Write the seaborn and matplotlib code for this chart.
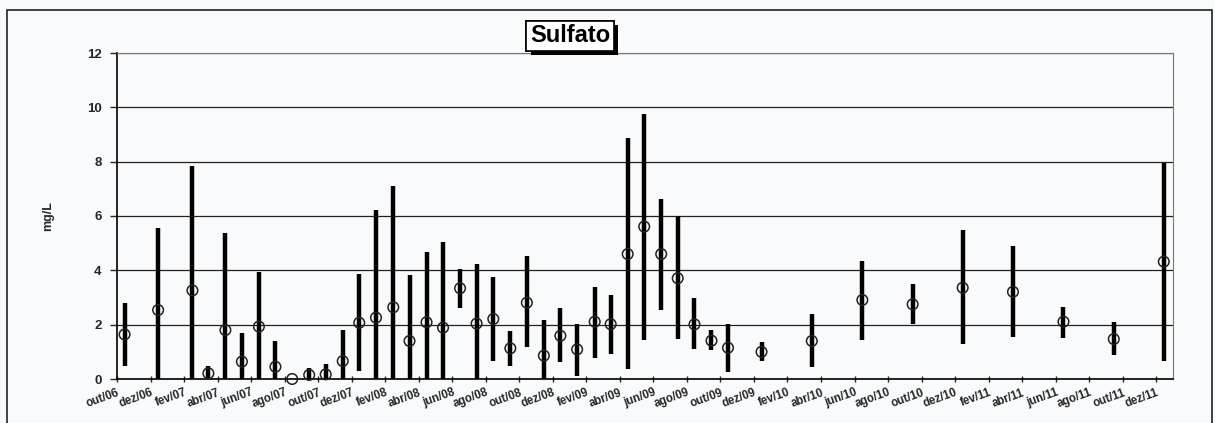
import pandas as pd
import matplotlib
matplotlib.use("Agg")
import matplotlib.pyplot as plt
import matplotlib.patheffects as pe
import seaborn as sns
from matplotlib.patches import Rectangle

# =========================
# DATA
# =========================
datas = ["2006-10-15", "2006-12-15", "2007-02-15", "2007-03-15", "2007-04-15",
         "2007-05-15", "2007-06-15", "2007-07-15", "2007-08-15", "2007-09-15",
         "2007-10-15", "2007-11-15", "2007-12-15", "2008-01-15", "2008-02-15",
         "2008-03-15", "2008-04-15", "2008-05-15", "2008-06-15", "2008-07-15",
         "2008-08-15", "2008-09-15", "2008-10-15", "2008-11-15", "2008-12-15",
         "2009-01-15", "2009-02-15", "2009-03-15", "2009-04-15", "2009-05-15",
         "2009-06-15", "2009-07-15", "2009-08-15", "2009-09-15", "2009-10-15",
         "2009-12-15", "2010-03-15", "2010-06-15", "2010-09-15", "2010-12-15",
         "2011-03-15", "2011-06-15", "2011-09-15", "2011-12-15"]

minimo = [0.49, 0, 0, 0, 0, 0, 0, 0, 0, 0, 0, 0, 0.29, 0, 0,
          0, 0, 0, 2.60, 0, 0.66, 0.49, 1.17, 0, 0.61,
          0.12, 0.78, 0.93, 0.37, 1.42, 2.53, 1.48, 1.10, 1.07, 0.27,
          0.67, 0.44, 1.44, 2.01, 1.29, 1.56, 1.52, 0.88, 0.67]

maximo = [2.79, 5.57, 7.85, 0.48, 5.38, 1.71, 3.93, 1.41, 0.0, 0.39,
          0.54, 1.80, 3.88, 6.22, 7.09, 3.83, 4.69, 5.05, 4.06, 4.24,
          3.77, 1.77, 4.53, 2.17, 2.62, 2.02, 3.37, 3.09, 8.86, 9.74,
          6.64, 6.00, 2.98, 1.80, 2.04, 1.36, 2.38, 4.35, 3.51, 5.48,
          4.91, 2.66, 2.09, 7.96]

media = [1.64, 2.54, 3.26, 0.21, 1.80, 0.64, 1.93, 0.45, 0.0, 0.15,
         0.17, 0.66, 2.07, 2.26, 2.64, 1.40, 2.09, 1.89, 3.34, 2.04,
         2.21, 1.13, 2.81, 0.86, 1.59, 1.09, 2.11, 2.02, 4.60, 5.61,
         4.60, 3.71, 2.01, 1.41, 1.15, 1.00, 1.40, 2.91, 2.75, 3.36,
         3.21, 2.11, 1.47, 4.32]

rotulos_x = ["out/06", "dez/06", "fev/07", "abr/07", "jun/07", "ago/07", "out/07", "dez/07",
             "fev/08", "abr/08", "jun/08", "ago/08", "out/08", "dez/08", "fev/09", "abr/09",
             "jun/09", "ago/09", "out/09", "dez/09", "fev/10", "abr/10", "jun/10", "ago/10",
             "out/10", "dez/10", "fev/11", "abr/11", "jun/11", "ago/11", "out/11", "dez/11"]

# months since out/06 (Excel-like date axis, equal months)
d = pd.to_datetime(pd.Series(datas))
df = pd.DataFrame({
    "mes": (d.dt.year - 2006) * 12 + d.dt.month - 10 + (d.dt.day - 1) / d.dt.days_in_month,
    "min": minimo,
    "max": maximo,
    "media": media,
})

# =========================
# STYLE
# =========================
sns.set_style("white")
plt.rcParams["font.family"] = ["Liberation Sans", "DejaVu Sans"]
plt.rcParams["font.weight"] = "bold"
bg = "#f8fafc"

fig = plt.figure(figsize=(12.15, 4.23), dpi=100, facecolor=bg)
ax = fig.add_axes([117 / 1215, 1 - 379 / 423, (1173 - 117) / 1215, (379 - 53) / 423])
ax.set_facecolor(bg)

# =========================
# PLOT
# =========================
ax.vlines(df["mes"], df["min"], df["max"], color="black", lw=3.2, zorder=3)
sns.scatterplot(data=df, x="mes", y="media", ax=ax, marker="o", s=58,
                facecolor="none", edgecolor="#222222", linewidth=1.1,
                zorder=4, clip_on=False)

ax.set_xlim(0, 63)
ax.set_ylim(0, 12)
ax.set_yticks(range(0, 13, 2))
ax.set_xticks(range(0, 63, 2))
ax.set_xticklabels(rotulos_x, rotation=20, ha="right", va="top",
                   rotation_mode="anchor", fontsize=8.3, fontweight="bold")
ax.tick_params(axis="y", labelsize=9.5, length=5, width=1, direction="out", left=True, pad=6)
ax.tick_params(axis="x", length=5, width=1, direction="inout", bottom=True, pad=3)
for t in ax.get_yticklabels():
    t.set_fontweight("bold")

ax.yaxis.grid(True, color="#222222", lw=0.9)
ax.set_axisbelow(True)
ax.set_xlabel("")
ax.set_ylabel("mg/L", fontsize=9, fontweight="bold", labelpad=24)

ax.spines["left"].set_color("black")
ax.spines["bottom"].set_color("black")
ax.spines["left"].set_linewidth(1.2)
ax.spines["bottom"].set_linewidth(1.2)
ax.spines["top"].set_color("#777777")
ax.spines["top"].set_linestyle((0, (1, 1)))
ax.spines["right"].set_color("#777777")
for s in ["top", "right"]:
    ax.spines[s].set_linewidth(0.8)

# =========================
# TITLE BOX WITH SHADOW + OUTER FRAME
# =========================
titulo = fig.text(570 / 1215, 1 - 36 / 423, "Sulfato", fontsize=17, fontweight="bold",
                  color="black", ha="center", va="center",
                  bbox=dict(boxstyle="square,pad=0.15", fc="white", ec="black", lw=1.2))
titulo.get_bbox_patch().set_path_effects([
    pe.withSimplePatchShadow(offset=(3, -3), shadow_rgbFace="black", alpha=1.0),
    pe.Normal(),
])

fig.patches.append(Rectangle((7 / 1215, -0.1), 1205 / 1215, 1.1 - 10 / 423,
                             transform=fig.transFigure, fill=False,
                             ec="#222222", lw=1.2))

fig.savefig("out.png", dpi=100, facecolor=bg)
